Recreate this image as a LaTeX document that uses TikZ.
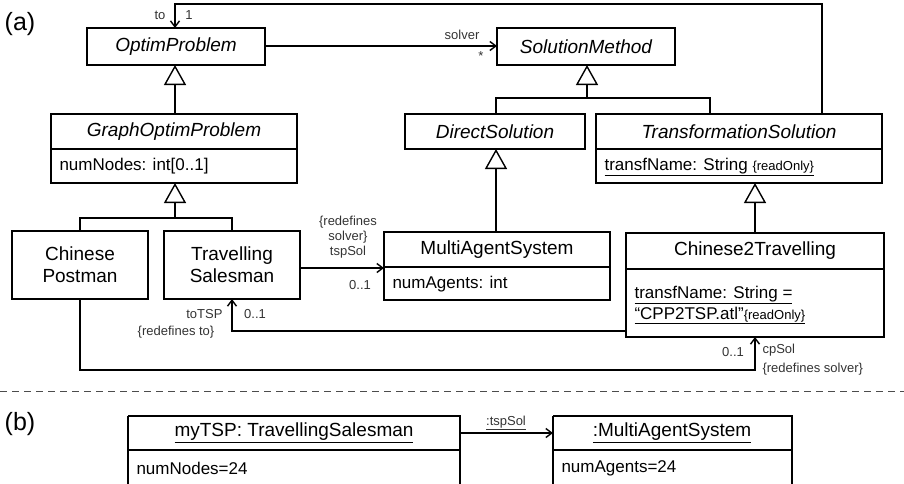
\documentclass[tikz,border=0pt]{standalone}
\usepackage{fontspec}
\setmainfont{Liberation Sans}
\usetikzlibrary{arrows.meta}
\begin{document}
\begin{tikzpicture}[x=1pt,y=-1pt,
  box/.style={draw,line width=1.6pt},
  ln/.style={line width=1.4pt},
  gen/.style={ln,-{Triangle[open,length=20pt,width=22pt,line width=1.4pt]}},
  nav/.style={ln,-{Straight Barb[length=6pt,width=9pt,line width=1.4pt]}},
  big/.style={font=\fontsize{19}{22}\selectfont},
  mid/.style={font=\fontsize{17}{20}\selectfont},
  sm/.style={font=\fontsize{13}{15}\selectfont,text=black!80},
  lab/.style={font=\fontsize{25}{27}\selectfont}]
\useasboundingbox (0,0) rectangle (904,483);
\node[lab] (la) at (20,24) {(a)};
\node[lab] (lb) at (20,424) {(b)};
% boxes
\draw[box] (87,28) rectangle (265,65);
\node[big] (op) at (176,46.5) {\itshape OptimProblem};
\coordinate (opT) at (175,28); \coordinate (opB) at (175,65); \coordinate (opR) at (265,46);
\draw[box] (497,28) rectangle (675,65);
\node[big] (sm) at (586,46.5) {\itshape SolutionMethod};
\coordinate (smL) at (497,46); \coordinate (smB) at (587,65);
\draw[box] (51,114) rectangle (297,183); \draw[box] (51,149)--(297,149);
\node[big] (gop) at (174,131.5) {\itshape GraphOptimProblem};
\node[mid,anchor=west] (gopa) at (56,166) {numNodes: int[0..1]};
\coordinate (gopT) at (175,114); \coordinate (gopB) at (175,183);
\draw[box] (405,114) rectangle (585,149);
\node[big] (ds) at (495,131.5) {\itshape DirectSolution};
\coordinate (dsT) at (496,114); \coordinate (dsB) at (496,149);
\draw[box] (596,114) rectangle (882,183); \draw[box] (596,149)--(882,149);
\node[big] (ts) at (739,131.5) {\itshape TransformationSolution};
\node[mid,anchor=west] (tsa) at (601,167) {\underline{transfName: String {\fontsize{13}{15}\selectfont\{readOnly\}}}};
\coordinate (tsT) at (710,114); \coordinate (tsT2) at (822,114); \coordinate (tsB) at (755,183);
\draw[box] (12,231) rectangle (148,299);
\node[big,align=center] (cp) at (80,265) {Chinese\\Postman};
\coordinate (cpB) at (80,299);
\draw[box] (164,231) rectangle (300,299);
\node[big,align=center] (tsp) at (232,265) {Travelling\\Salesman};
\coordinate (tspR) at (300,268); \coordinate (tspB) at (232,299);
\draw[box] (384,232) rectangle (610,300); \draw[box] (384,267)--(610,267);
\node[big] (mas) at (497,250) {MultiAgentSystem};
\node[mid,anchor=west] (masa) at (389,284) {numAgents: int};
\coordinate (masL) at (384,268); \coordinate (masT) at (496,232);
\draw[box] (626,233) rectangle (884,337); \draw[box] (626,269)--(884,269);
\node[big] (ct) at (755,251) {Chinese2Travelling};
\node[mid,anchor=west,align=left] (cta) at (631,305) {\underline{transfName: String =}\\[1pt]\underline{“CPP2TSP.atl”{\fontsize{13}{15}\selectfont\{readOnly\}}}};
\coordinate (ctT) at (755,233); \coordinate (ctB) at (755,337); \coordinate (ctL) at (626,331);
% generalizations
\draw[gen] (gopT) -- (opB);
\draw[gen] (80,231) |- (175,218) -- (gopB);
\draw[ln] (232,231) |- (175,218);
\draw[gen] (dsT) |- (587,98) -- (smB);
\draw[ln] (tsT) |- (587,98);
\draw[gen] (masT) -- (dsB);
\draw[gen] (ctT) -- (tsB);
% associations
\draw[nav] (opR) -- (smL);
\node[sm] (l1) at (462,35) {solver};
\node[sm] (l2) at (481,56) {*};
\draw[nav] (tsT2) -- (822,4) -| (opT);
\node[sm] (l3) at (160,15) {to};
\node[sm] (l4) at (189,15) {1};
\draw[nav] (tspR) -- (masL);
\node[sm,align=center] (l5) at (348,237) {\{redefines\\solver\}\\tspSol};
\node[sm] (l6) at (360,285) {0..1};
\draw[nav] (ctL) -| (tspB);
\node[sm,anchor=east] (l7) at (226,314) {toTSP};
\node[sm] (l8) at (176,332) {\{redefines to\}};
\node[sm] (l9) at (255,314) {0..1};
\draw[nav] (cpB) |- (755,370) -- (ctB);
\node[sm] (l10) at (733,352) {0..1};
\node[sm,anchor=west] (l11) at (759,350) {cpSol};
\node[sm,anchor=west] (l12) at (759,369) {\{redefines solver\}};
% separator
\draw[line width=1pt,dashed,dash pattern=on 7pt off 5pt,black!70] (0,391) -- (904,391);
% (b)
\draw[box] (128,416) -- (128,490) (460,490) -- (460,416) -- (128,416) (128,450)--(460,450);
\node[big] (o1) at (294,433) {\underline{myTSP: TravellingSalesman}};
\node[mid,anchor=west] (o1a) at (133,468) {numNodes=24};
\coordinate (o1R) at (460,433);
\draw[box] (553,416) -- (553,490) (792,490) -- (792,416) -- (553,416) (553,450)--(792,450);
\node[big] (o2) at (672,433) {\underline{:MultiAgentSystem}};
\node[mid,anchor=west] (o2a) at (558,468) {numAgents=24};
\coordinate (o2L) at (553,433);
\draw[nav] (o1R) -- (o2L);
\node[sm] (l13) at (506,423) {\underline{:tspSol}};
\end{tikzpicture}
\end{document}
